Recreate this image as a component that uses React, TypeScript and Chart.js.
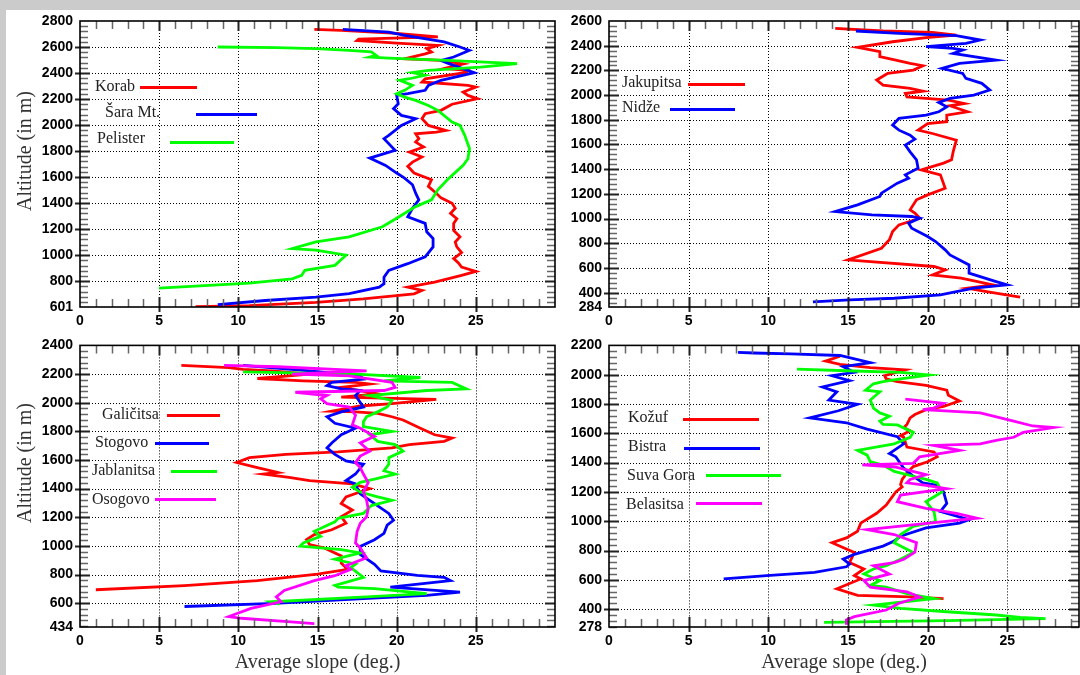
import React, { useEffect, useRef } from 'react';
import { Chart, registerables } from 'chart.js';
Chart.register(...registerables);

// ---------- Panel 1 (top-left) ----------
const KORAB_ALT = [2735, 2728, 2705, 2678, 2660, 2650, 2630, 2612, 2588, 2562, 2548, 2510, 2497, 2470, 2435, 2420, 2405, 2356, 2331, 2305, 2292, 2254, 2228, 2203, 2160, 2113, 2087, 2049, 1997, 1959, 1946, 1933, 1895, 1869, 1831, 1792, 1754, 1715, 1683, 1631, 1579, 1528, 1476, 1440, 1399, 1360, 1321, 1280, 1244, 1190, 1141, 1100, 1063, 1020, 973, 940, 908, 875, 844, 792, 754, 728, 702, 663, 637, 612, 603];
const KORAB_SLOPE = [14.8, 16.5, 20.0, 22.6, 17.6, 17.5, 20.0, 22.6, 21.9, 22.2, 21.8, 20.5, 22.8, 24.2, 23.0, 24.5, 24.4, 21.8, 21.6, 24.5, 25.0, 24.2, 24.5, 25.1, 23.5, 22.8, 21.8, 21.6, 22.0, 23.1, 22.5, 21.2, 21.4, 21.2, 21.7, 20.8, 21.6, 21.0, 20.7, 21.1, 22.2, 22.0, 22.5, 22.8, 23.5, 23.7, 23.4, 23.8, 23.6, 23.6, 24.0, 23.7, 23.8, 24.1, 23.6, 23.9, 24.1, 25.0, 24.1, 22.4, 20.7, 21.6, 21.1, 17.9, 14.9, 10.7, 7.3];

const SARA_ALT = [2736, 2715, 2690, 2640, 2600, 2587, 2574, 2523, 2497, 2472, 2403, 2344, 2305, 2267, 2241, 2228, 2164, 2126, 2074, 2049, 1997, 1921, 1895, 1805, 1746, 1690, 1631, 1592, 1541, 1476, 1425, 1360, 1295, 1244, 1179, 1128, 1063, 986, 934, 883, 831, 780, 754, 703, 677, 651, 620];
const SARA_SLOPE = [16.6, 19.5, 20.5, 23.0, 24.0, 24.3, 24.6, 23.6, 22.8, 23.3, 24.9, 22.8, 22.0, 21.8, 20.7, 20.0, 20.1, 19.8, 20.3, 21.2, 20.3, 19.5, 19.2, 19.9, 18.3, 19.3, 20.0, 20.5, 21.0, 21.2, 21.4, 21.0, 20.7, 21.8, 21.9, 22.3, 22.3, 21.8, 20.7, 19.5, 19.2, 19.2, 18.9, 17.0, 14.9, 11.7, 8.7];

const PELISTER_ALT = [2600, 2595, 2587, 2574, 2562, 2536, 2523, 2515, 2497, 2472, 2446, 2420, 2403, 2382, 2356, 2344, 2305, 2267, 2241, 2215, 2190, 2151, 2113, 2023, 1997, 1921, 1818, 1741, 1690, 1657, 1579, 1502, 1425, 1373, 1283, 1218, 1141, 1102, 1050, 1038, 999, 921, 883, 844, 818, 785, 746];
const PELISTER_SLOPE = [8.7, 12.4, 14.9, 17.0, 18.4, 18.7, 18.3, 19.5, 23.2, 27.6, 25.3, 22.0, 21.0, 21.8, 20.8, 20.2, 21.0, 20.5, 20.0, 20.5, 21.2, 22.0, 22.6, 23.5, 24.0, 24.3, 24.6, 24.5, 24.2, 23.9, 23.2, 22.6, 22.2, 21.2, 20.0, 19.1, 17.0, 14.9, 13.4, 14.9, 16.8, 16.1, 14.2, 14.0, 13.4, 10.7, 5.0];

// ---------- Panel 2 (top-right) ----------
const JAKUPITSA_ALT = [2541, 2519, 2508, 2486, 2465, 2432, 2386, 2351, 2311, 2284, 2257, 2238, 2203, 2176, 2122, 2081, 2054, 2032, 2013, 1986, 1973, 1959, 1932, 1913, 1865, 1838, 1784, 1770, 1716, 1689, 1635, 1540, 1476, 1449, 1395, 1354, 1246, 1192, 1152, 1071, 1044, 1003, 949, 895, 828, 760, 666, 653, 612, 585, 544, 517, 463, 436, 409, 363];
const JAKUPITSA_SLOPE = [14.2, 17.2, 20.3, 21.8, 19.9, 17.8, 15.6, 17.0, 17.0, 18.0, 18.9, 19.7, 19.1, 17.5, 16.8, 17.2, 18.9, 19.7, 18.6, 18.7, 19.9, 21.3, 22.3, 21.4, 22.5, 21.2, 21.2, 20.0, 19.4, 20.3, 21.8, 21.6, 21.5, 21.0, 19.6, 20.8, 21.1, 20.0, 19.3, 18.9, 19.2, 19.5, 18.2, 17.8, 17.6, 17.1, 15.0, 16.2, 20.4, 21.1, 20.3, 22.1, 24.1, 22.5, 23.7, 25.8];

const NIDZE_ALT = [2519, 2500, 2481, 2446, 2419, 2392, 2378, 2365, 2338, 2284, 2257, 2216, 2176, 2135, 2095, 2041, 2000, 1973, 1940, 1905, 1865, 1838, 1811, 1757, 1716, 1676, 1643, 1595, 1540, 1476, 1408, 1354, 1327, 1287, 1206, 1179, 1111, 1057, 1030, 1017, 1003, 963, 922, 855, 814, 747, 706, 625, 558, 490, 463, 436, 382, 355, 342, 325];
const NIDZE_SLOPE = [15.5, 18.2, 21.8, 23.3, 22.4, 19.9, 21.6, 22.2, 21.6, 24.3, 22.0, 20.9, 22.2, 22.4, 23.4, 23.9, 22.9, 21.4, 20.7, 21.2, 20.7, 19.9, 18.2, 17.8, 18.2, 18.9, 19.2, 18.6, 18.9, 19.3, 19.4, 18.6, 18.8, 18.1, 17.1, 17.0, 15.6, 14.2, 16.5, 19.0, 19.5, 18.8, 19.0, 20.0, 20.5, 21.1, 21.4, 22.6, 22.6, 24.3, 25.0, 22.9, 20.8, 17.9, 15.1, 12.8];

// ---------- Panel 3 (bottom-left) ----------
const GALICITSA_ALT = [2261, 2245, 2233, 2222, 2199, 2169, 2153, 2142, 2130, 2107, 2062, 2039, 2023, 1993, 1977, 1940, 1936, 1925, 1902, 1879, 1822, 1776, 1753, 1730, 1707, 1684, 1657, 1639, 1616, 1582, 1547, 1513, 1502, 1479, 1456, 1433, 1400, 1385, 1342, 1296, 1250, 1204, 1159, 1113, 1079, 1044, 1010, 987, 930, 880, 837, 803, 758, 723, 694];
const GALICITSA_SLOPE = [6.4, 9.4, 10.3, 12.1, 14.5, 11.2, 14.1, 17.4, 18.3, 16.5, 18.8, 16.5, 22.5, 19.7, 17.7, 15.9, 17.4, 18.8, 19.7, 20.4, 21.5, 22.4, 23.5, 23.0, 20.8, 19.7, 16.3, 13.0, 10.7, 9.9, 11.2, 12.5, 11.6, 13.2, 14.5, 17.2, 18.3, 17.9, 16.8, 16.5, 17.2, 16.5, 16.8, 15.9, 14.8, 14.3, 14.5, 15.4, 16.5, 16.5, 16.9, 15.0, 11.2, 6.6, 1.0];

const STOGOVO_ALT = [2261, 2222, 2187, 2165, 2142, 2119, 2096, 2085, 2050, 1970, 1936, 1902, 1856, 1822, 1776, 1719, 1684, 1639, 1593, 1570, 1502, 1456, 1433, 1407, 1364, 1296, 1227, 1179, 1145, 1088, 1043, 997, 940, 872, 826, 795, 781, 758, 712, 678, 655, 633, 599, 577];
const STOGOVO_SLOPE = [10.3, 14.5, 17.7, 17.9, 15.9, 15.6, 16.5, 17.7, 17.4, 17.9, 16.5, 15.6, 16.1, 17.4, 16.5, 15.9, 15.6, 16.1, 16.8, 17.9, 17.4, 16.8, 17.4, 17.5, 17.7, 18.6, 19.5, 19.8, 19.4, 19.2, 18.6, 17.7, 17.7, 18.6, 19.0, 21.3, 23.0, 23.4, 19.6, 24.0, 21.9, 17.9, 12.3, 6.6];

const JABLANITSA_ALT = [2215, 2199, 2176, 2153, 2142, 2096, 2085, 2050, 2016, 1970, 1936, 1902, 1867, 1833, 1799, 1776, 1730, 1707, 1662, 1616, 1570, 1525, 1502, 1467, 1444, 1410, 1376, 1342, 1319, 1282, 1227, 1193, 1168, 1102, 1067, 1021, 999, 974, 951, 907, 873, 849, 780, 724, 712, 702, 667, 644, 610, 594];
const JABLANITSA_SLOPE = [10.3, 17.4, 21.5, 19.2, 23.5, 24.4, 21.9, 18.3, 19.7, 19.4, 18.8, 18.1, 17.9, 17.9, 19.7, 18.3, 18.8, 19.9, 20.4, 19.5, 19.5, 19.2, 19.9, 18.6, 17.7, 17.2, 17.7, 18.8, 19.7, 18.4, 17.9, 16.3, 16.1, 14.8, 15.2, 14.1, 13.9, 16.5, 17.7, 16.1, 17.4, 17.1, 17.9, 16.1, 16.3, 18.6, 21.9, 18.1, 12.1, 12.6];

const OSOGOVO_ALT = [2261, 2251, 2222, 2199, 2187, 2142, 2107, 2085, 2073, 2050, 2027, 1993, 1970, 1913, 1845, 1822, 1765, 1719, 1662, 1627, 1582, 1547, 1502, 1442, 1376, 1319, 1259, 1204, 1159, 1100, 1021, 986, 917, 862, 837, 792, 758, 689, 644, 610, 564, 507, 495, 473, 457];
const OSOGOVO_SLOPE = [9.1, 12.5, 18.1, 13.4, 17.0, 19.7, 19.9, 19.2, 13.6, 15.6, 15.2, 15.6, 17.0, 17.4, 17.2, 17.7, 18.6, 17.7, 18.3, 17.7, 17.4, 17.7, 17.9, 18.2, 17.9, 18.1, 18.2, 18.1, 17.7, 17.5, 17.4, 17.7, 18.1, 16.8, 17.1, 16.1, 14.8, 12.9, 12.4, 12.7, 10.8, 9.4, 10.2, 12.9, 14.8];

// ---------- Panel 4 (bottom-right) ----------
const KOZUF_ALT = [2126, 2093, 2071, 2049, 2033, 1993, 1971, 1953, 1927, 1894, 1860, 1821, 1783, 1761, 1728, 1705, 1661, 1639, 1617, 1584, 1573, 1506, 1473, 1440, 1406, 1373, 1329, 1285, 1251, 1234, 1200, 1110, 1054, 987, 931, 886, 853, 786, 718, 674, 629, 606, 539, 494, 483, 472];
const KOZUF_SLOPE = [14.5, 13.6, 14.5, 16.4, 18.6, 17.3, 17.4, 18.1, 19.9, 21.2, 21.3, 22.0, 21.0, 19.9, 19.2, 18.9, 18.7, 18.5, 18.9, 18.3, 18.5, 18.7, 20.4, 20.6, 20.0, 19.1, 18.7, 18.4, 18.3, 18.4, 18.0, 17.4, 16.8, 15.8, 15.6, 14.9, 14.0, 15.4, 15.1, 16.0, 15.4, 15.8, 14.3, 15.6, 18.9, 21.0];

const BISTRA_ALT = [2153, 2148, 2142, 2131, 2082, 2055, 2016, 1993, 1960, 1916, 1883, 1827, 1798, 1754, 1705, 1672, 1628, 1577, 1528, 1462, 1440, 1362, 1307, 1262, 1245, 1200, 1122, 1066, 1010, 987, 954, 898, 864, 830, 774, 741, 707, 689, 651, 629, 606];
const BISTRA_SLOPE = [8.1, 9.1, 11.4, 14.5, 16.4, 14.7, 15.4, 14.0, 15.1, 13.4, 14.3, 13.8, 15.6, 14.4, 12.6, 14.9, 16.2, 18.1, 18.5, 17.6, 18.0, 18.5, 19.1, 19.7, 20.6, 21.0, 21.2, 20.8, 22.6, 22.0, 19.9, 18.3, 17.9, 17.2, 15.4, 14.7, 15.1, 14.9, 12.9, 9.9, 7.2];

const SUVAGORA_ALT = [2038, 2027, 2016, 1998, 1971, 1953, 1938, 1894, 1883, 1827, 1772, 1739, 1717, 1683, 1661, 1657, 1606, 1573, 1528, 1484, 1451, 1406, 1384, 1340, 1307, 1285, 1262, 1200, 1133, 1066, 998, 965, 909, 853, 786, 741, 696, 674, 640, 595, 562, 550, 506, 472, 427, 405, 382, 360, 344, 335, 322, 309];
const SUVAGORA_SLOPE = [11.8, 14.9, 18.3, 20.1, 18.3, 17.2, 16.6, 16.1, 17.0, 16.4, 16.6, 17.0, 17.6, 17.0, 17.2, 18.1, 19.1, 18.9, 17.9, 15.6, 16.2, 16.4, 17.2, 17.9, 19.1, 19.9, 20.6, 20.9, 19.9, 20.4, 20.5, 19.1, 18.3, 17.9, 19.1, 18.3, 17.4, 16.6, 16.0, 17.0, 16.4, 17.4, 18.7, 20.4, 16.6, 18.3, 21.2, 24.3, 25.8, 27.4, 21.2, 13.5];

const BELASITSA_ALT = [1834, 1805, 1772, 1761, 1739, 1683, 1650, 1639, 1606, 1573, 1551, 1528, 1517, 1484, 1440, 1395, 1384, 1369, 1318, 1285, 1262, 1245, 1222, 1178, 1133, 1088, 1054, 1021, 980, 942, 909, 853, 789, 740, 718, 696, 640, 595, 550, 517, 483, 440, 394, 349, 326, 293];
const BELASITSA_SLOPE = [18.6, 21.0, 20.4, 19.7, 23.3, 25.4, 26.6, 27.9, 26.0, 25.4, 24.3, 23.3, 20.4, 22.0, 19.5, 19.1, 15.9, 18.0, 19.9, 18.9, 18.7, 19.9, 21.2, 18.3, 18.1, 19.9, 21.8, 23.1, 19.5, 16.2, 17.9, 19.3, 19.2, 18.5, 17.9, 16.6, 17.6, 16.0, 16.4, 18.7, 19.5, 18.2, 17.4, 15.4, 14.9, 14.9];

// ---------- Axes ----------
const X_TICKS = [0, 5, 10, 15, 20, 25];
const Y_TICKS_P1 = [601, 800, 1000, 1200, 1400, 1600, 1800, 2000, 2200, 2400, 2600, 2800];
const Y_TICKS_P2 = [284, 400, 600, 800, 1000, 1200, 1400, 1600, 1800, 2000, 2200, 2400, 2600];
const Y_TICKS_P3 = [434, 600, 800, 1000, 1200, 1400, 1600, 1800, 2000, 2200, 2400];
const Y_TICKS_P4 = [278, 400, 600, 800, 1000, 1200, 1400, 1600, 1800, 2000, 2200];

const RED = '#ff0000';
const BLUE = '#0000ff';
const GREEN = '#00ff00';
const MAGENTA = '#ff00ff';

const SERIF = '"Liberation Serif", "Times New Roman", serif';
const SANS = '"Liberation Sans", Arial, sans-serif';

type Series = { label: string; alt: number[]; slope: number[]; color: string };
type LegendItem = { text: string; tx: number; ty: number; lx1: number; lx2: number; ly: number };
type PanelCfg = {
  box: { left: number; top: number; width: number; height: number };
  padding: { left: number; top: number; right: number; bottom: number };
  yAxisWidth: number;
  xAxisHeight: number;
  xMax: number;
  yTicks: number[];
  series: Series[];
  legend: LegendItem[];
  yTitle: { x: number; y: number } | null;
  xTitle: boolean;
};

const PANELS: PanelCfg[] = [
  {
    box: { left: 0, top: 0, width: 560, height: 335 },
    padding: { left: 10, top: 21, right: 5, bottom: 0 },
    yAxisWidth: 70, xAxisHeight: 28, xMax: 30, yTicks: Y_TICKS_P1,
    series: [
      { label: 'Korab', alt: KORAB_ALT, slope: KORAB_SLOPE, color: RED },
      { label: 'Šara Mt.', alt: SARA_ALT, slope: SARA_SLOPE, color: BLUE },
      { label: 'Pelister', alt: PELISTER_ALT, slope: PELISTER_SLOPE, color: GREEN },
    ],
    legend: [
      { text: 'Korab', tx: 95, ty: 87, lx1: 140, lx2: 197, ly: 87 },
      { text: 'Šara Mt.', tx: 105, ty: 113, lx1: 196, lx2: 257, ly: 114 },
      { text: 'Pelister', tx: 97, ty: 139, lx1: 170, lx2: 234, ly: 142 },
    ],
    yTitle: { x: 26, y: 151 }, xTitle: false,
  },
  {
    box: { left: 560, top: 0, width: 520, height: 335 },
    padding: { left: 4, top: 21, right: 1, bottom: 0 },
    yAxisWidth: 45, xAxisHeight: 28, xMax: 29.5, yTicks: Y_TICKS_P2,
    series: [
      { label: 'Jakupitsa', alt: JAKUPITSA_ALT, slope: JAKUPITSA_SLOPE, color: RED },
      { label: 'Nidže', alt: NIDZE_ALT, slope: NIDZE_SLOPE, color: BLUE },
    ],
    legend: [
      { text: 'Jakupitsa', tx: 622, ty: 83, lx1: 688, lx2: 745, ly: 84 },
      { text: 'Nidže', tx: 622, ty: 108, lx1: 670, lx2: 735, ly: 109 },
    ],
    yTitle: null, xTitle: false,
  },
  {
    box: { left: 0, top: 330, width: 560, height: 345 },
    padding: { left: 10, top: 11, right: 5, bottom: 0 },
    yAxisWidth: 70, xAxisHeight: 48, xMax: 30, yTicks: Y_TICKS_P3,
    series: [
      { label: 'Galičitsa', alt: GALICITSA_ALT, slope: GALICITSA_SLOPE, color: RED },
      { label: 'Stogovo', alt: STOGOVO_ALT, slope: STOGOVO_SLOPE, color: BLUE },
      { label: 'Jablanitsa', alt: JABLANITSA_ALT, slope: JABLANITSA_SLOPE, color: GREEN },
      { label: 'Osogovo', alt: OSOGOVO_ALT, slope: OSOGOVO_SLOPE, color: MAGENTA },
    ],
    legend: [
      { text: 'Galičitsa', tx: 102, ty: 415, lx1: 167, lx2: 220, ly: 415 },
      { text: 'Stogovo', tx: 95, ty: 443, lx1: 155, lx2: 209, ly: 443 },
      { text: 'Jablanitsa', tx: 92, ty: 471, lx1: 171, lx2: 217, ly: 471 },
      { text: 'Osogovo', tx: 92, ty: 500, lx1: 155, lx2: 216, ly: 499 },
    ],
    yTitle: { x: 26, y: 463 }, xTitle: true,
  },
  {
    box: { left: 560, top: 330, width: 520, height: 345 },
    padding: { left: 4, top: 11, right: 1, bottom: 0 },
    yAxisWidth: 45, xAxisHeight: 48, xMax: 29.5, yTicks: Y_TICKS_P4,
    series: [
      { label: 'Kožuf', alt: KOZUF_ALT, slope: KOZUF_SLOPE, color: RED },
      { label: 'Bistra', alt: BISTRA_ALT, slope: BISTRA_SLOPE, color: BLUE },
      { label: 'Suva Gora', alt: SUVAGORA_ALT, slope: SUVAGORA_SLOPE, color: GREEN },
      { label: 'Belasitsa', alt: BELASITSA_ALT, slope: BELASITSA_SLOPE, color: MAGENTA },
    ],
    legend: [
      { text: 'Kožuf', tx: 628, ty: 418, lx1: 683, lx2: 759, ly: 419 },
      { text: 'Bistra', tx: 628, ty: 447, lx1: 684, lx2: 760, ly: 448 },
      { text: 'Suva Gora', tx: 627, ty: 476, lx1: 706, lx2: 781, ly: 475 },
      { text: 'Belasitsa', tx: 626, ty: 505, lx1: 696, lx2: 762, ly: 503 },
    ],
    yTitle: null, xTitle: true,
  },
];

function makeFramePlugin(cfg: PanelCfg) {
  return {
    id: 'frame',
    beforeDatasetsDraw(chart: any) {
      const { ctx, chartArea: a, scales } = chart;
      const x = scales.x;
      const y = scales.y;
      ctx.save();
      ctx.strokeStyle = '#000';
      ctx.lineWidth = 1;
      ctx.setLineDash([1, 2]);
      ctx.beginPath();
      for (const t of x.ticks) {
        if (t.value <= x.min || t.value >= x.max) continue;
        const p = Math.round(x.getPixelForValue(t.value)) + 0.5;
        ctx.moveTo(p, a.top);
        ctx.lineTo(p, a.bottom);
      }
      for (const t of y.ticks) {
        if (t.value <= y.min || t.value >= y.max) continue;
        const p = Math.round(y.getPixelForValue(t.value)) + 0.5;
        ctx.moveTo(a.left, p);
        ctx.lineTo(a.right, p);
      }
      ctx.stroke();
      ctx.restore();
    },
    afterDatasetsDraw(chart: any) {
      const { ctx, chartArea: a, scales } = chart;
      const x = scales.x;
      const y = scales.y;
      ctx.save();
      // minor / major tick marks on all four sides
      for (let v = 1; v < x.max; v += 1) {
        const p = Math.round(x.getPixelForValue(v)) + 0.5;
        const major = v % 5 === 0;
        ctx.strokeStyle = major ? '#222' : '#666';
        ctx.lineWidth = major ? 2 : 1.5;
        ctx.beginPath();
        ctx.moveTo(p, a.bottom + (major ? 5 : 0));
        ctx.lineTo(p, a.bottom - (major ? 10 : 8));
        ctx.moveTo(p, a.top);
        ctx.lineTo(p, a.top + (major ? 10 : 8));
        ctx.stroke();
      }
      for (let v = Math.ceil(y.min / 40) * 40; v < y.max; v += 40) {
        if (v <= y.min) continue;
        const p = Math.round(y.getPixelForValue(v)) + 0.5;
        const major = v % 200 === 0;
        ctx.strokeStyle = major ? '#222' : '#666';
        ctx.lineWidth = major ? 2 : 1.5;
        ctx.beginPath();
        ctx.moveTo(a.left - (major ? 5 : 0), p);
        ctx.lineTo(a.left + (major ? 10 : 8), p);
        ctx.moveTo(a.right, p);
        ctx.lineTo(a.right - (major ? 10 : 8), p);
        ctx.stroke();
      }
      // frame
      ctx.strokeStyle = '#000';
      ctx.lineWidth = 1.6;
      ctx.strokeRect(a.left, a.top, a.right - a.left, a.bottom - a.top);
      // legend
      const ox = cfg.box.left;
      const oy = cfg.box.top;
      ctx.font = `16px ${SERIF}`;
      ctx.textAlign = 'left';
      ctx.textBaseline = 'middle';
      cfg.legend.forEach((item, i) => {
        ctx.fillStyle = '#222';
        ctx.fillText(item.text, item.tx - ox, item.ty - oy);
        ctx.strokeStyle = cfg.series[i].color;
        ctx.lineWidth = 3;
        ctx.beginPath();
        ctx.moveTo(item.lx1 - ox, item.ly - oy + 0.5);
        ctx.lineTo(item.lx2 - ox, item.ly - oy + 0.5);
        ctx.stroke();
      });
      // y title
      if (cfg.yTitle) {
        ctx.translate(cfg.yTitle.x - ox, cfg.yTitle.y - oy);
        ctx.rotate(-Math.PI / 2);
        ctx.font = `20px ${SERIF}`;
        ctx.fillStyle = '#333';
        ctx.textAlign = 'center';
        ctx.textBaseline = 'middle';
        ctx.fillText('Altitude (in m)', 0, 0);
      }
      ctx.restore();
    },
  };
}

function Panel({ cfg }: { cfg: PanelCfg }) {
  const ref = useRef<HTMLCanvasElement>(null);
  useEffect(() => {
    const yMin = cfg.yTicks[0];
    const yMax = cfg.yTicks[cfg.yTicks.length - 1];
    const chart = new Chart(ref.current as HTMLCanvasElement, {
      type: 'scatter',
      data: {
        datasets: cfg.series.map((s, i) => ({
          label: s.label,
          data: s.alt.map((a, k) => ({ x: s.slope[k], y: a })),
          showLine: true,
          borderColor: s.color,
          backgroundColor: s.color,
          borderWidth: 2.8,
          pointRadius: 0,
          pointHoverRadius: 0,
          tension: 0,
          fill: false,
          order: -i,
        })),
      },
      options: {
        animation: false,
        responsive: false,
        maintainAspectRatio: false,
        events: [],
        layout: { padding: cfg.padding },
        plugins: { legend: { display: false }, tooltip: { enabled: false } },
        scales: {
          x: {
            type: 'linear',
            min: 0,
            max: cfg.xMax,
            afterBuildTicks: (s: any) => { s.ticks = X_TICKS.map((v) => ({ value: v })); },
            afterFit: (s: any) => { s.height = cfg.xAxisHeight; },
            grid: { display: false, drawTicks: false },
            border: { display: false },
            ticks: {
              font: { family: SANS, size: 14, weight: 'bold' },
              color: '#000',
              padding: 6,
              maxRotation: 0,
              autoSkip: false,
              callback: (v: any) => String(v),
            },
            title: {
              display: cfg.xTitle,
              text: 'Average slope (deg.)',
              font: { family: SERIF, size: 20 },
              color: '#333',
              padding: { top: 0, bottom: 0 },
            },
          },
          y: {
            type: 'linear',
            min: yMin,
            max: yMax,
            afterBuildTicks: (s: any) => { s.ticks = cfg.yTicks.map((v) => ({ value: v })); },
            afterFit: (s: any) => { s.width = cfg.yAxisWidth; },
            grid: { display: false, drawTicks: false },
            border: { display: false },
            ticks: {
              font: { family: SANS, size: 14, weight: 'bold' },
              color: '#000',
              padding: 7,
              autoSkip: false,
              callback: (v: any) => String(v),
            },
          },
        },
      } as any,
      plugins: [makeFramePlugin(cfg)],
    });
    return () => chart.destroy();
  }, [cfg]);
  return (
    <canvas
      ref={ref}
      width={cfg.box.width}
      height={cfg.box.height}
      style={{ position: 'absolute', left: cfg.box.left, top: cfg.box.top, width: cfg.box.width, height: cfg.box.height }}
    />
  );
}

export default function App() {
  return (
    <div style={{ position: 'fixed', left: 0, top: 0, width: 1080, height: 675, overflow: 'hidden', background: '#cbcbcb' }}>
      <div style={{ position: 'absolute', left: 6, top: 10, right: 0, bottom: 0, background: '#ffffff' }} />
      {PANELS.map((p, i) => (
        <Panel key={i} cfg={p} />
      ))}
    </div>
  );
}
